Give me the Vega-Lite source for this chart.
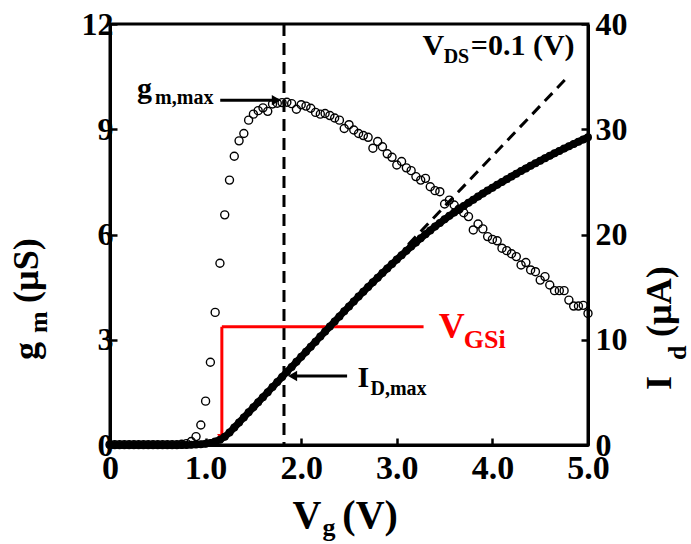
{
  "$schema": "https://vega.github.io/schema/vega-lite/v6.json",
  "width": 478,
  "height": 421,
  "autosize": "none",
  "padding": {"left": 110, "top": 24, "right": 103, "bottom": 99},
  "background": "white",
  "config": {
    "font": "Liberation Serif",
    "view": {"stroke": "black", "strokeWidth": 3},
    "axis": {
      "labelFont": "Liberation Serif", "labelFontWeight": "bold", "labelColor": "black", "labelFontSize": 32,
      "domainColor": "black", "domainWidth": 3, "tickColor": "black", "tickWidth": 2.5, "tickSize": -7,
      "grid": false, "labelFlush": false, "labelOverlap": false, "labelBound": false, "labelPadding": 4
    },
    "text": {"font": "Liberation Serif", "fontWeight": "bold", "align": "left", "baseline": "alphabetic"}
  },
  "datasets": {
    "gm": [
      {"Vg":0.00,"gm":0.01},{"Vg":0.05,"gm":0.01},{"Vg":0.10,"gm":0.01},{"Vg":0.15,"gm":0.01},{"Vg":0.20,"gm":0.01},
      {"Vg":0.25,"gm":0.01},{"Vg":0.30,"gm":0.01},{"Vg":0.35,"gm":0.01},{"Vg":0.40,"gm":0.01},{"Vg":0.45,"gm":0.01},
      {"Vg":0.50,"gm":0.01},{"Vg":0.55,"gm":0.01},{"Vg":0.60,"gm":0.01},{"Vg":0.65,"gm":0.01},{"Vg":0.70,"gm":0.01},
      {"Vg":0.75,"gm":0.02},{"Vg":0.80,"gm":0.04},{"Vg":0.85,"gm":0.10},{"Vg":0.90,"gm":0.24},{"Vg":0.95,"gm":0.57},
      {"Vg":1.00,"gm":1.25},{"Vg":1.05,"gm":2.36},{"Vg":1.10,"gm":3.78},{"Vg":1.15,"gm":5.18},{"Vg":1.20,"gm":6.56},
      {"Vg":1.25,"gm":7.55},{"Vg":1.30,"gm":8.23},{"Vg":1.35,"gm":8.67},{"Vg":1.40,"gm":8.88},{"Vg":1.45,"gm":9.26},
      {"Vg":1.50,"gm":9.43},{"Vg":1.55,"gm":9.53},{"Vg":1.60,"gm":9.61},{"Vg":1.65,"gm":9.51},{"Vg":1.70,"gm":9.72},
      {"Vg":1.75,"gm":9.74},{"Vg":1.80,"gm":9.76},{"Vg":1.85,"gm":9.77},{"Vg":1.90,"gm":9.73},{"Vg":1.95,"gm":9.57},
      {"Vg":2.00,"gm":9.70},{"Vg":2.05,"gm":9.66},{"Vg":2.10,"gm":9.60},{"Vg":2.15,"gm":9.48},{"Vg":2.20,"gm":9.43},
      {"Vg":2.25,"gm":9.45},{"Vg":2.30,"gm":9.39},{"Vg":2.35,"gm":9.32},{"Vg":2.40,"gm":9.26},{"Vg":2.45,"gm":9.02},
      {"Vg":2.50,"gm":9.13},{"Vg":2.55,"gm":8.98},{"Vg":2.60,"gm":8.88},{"Vg":2.65,"gm":8.82},{"Vg":2.70,"gm":8.77},
      {"Vg":2.75,"gm":8.46},{"Vg":2.80,"gm":8.65},{"Vg":2.85,"gm":8.50},{"Vg":2.90,"gm":8.30},{"Vg":2.95,"gm":8.20},
      {"Vg":3.00,"gm":7.98},{"Vg":3.05,"gm":8.08},{"Vg":3.10,"gm":7.90},{"Vg":3.15,"gm":7.82},{"Vg":3.20,"gm":7.65},
      {"Vg":3.25,"gm":7.55},{"Vg":3.30,"gm":7.60},{"Vg":3.35,"gm":7.36},{"Vg":3.40,"gm":7.25},{"Vg":3.45,"gm":7.22},
      {"Vg":3.50,"gm":6.87},{"Vg":3.55,"gm":6.98},{"Vg":3.60,"gm":6.84},{"Vg":3.65,"gm":6.72},{"Vg":3.70,"gm":6.62},
      {"Vg":3.75,"gm":6.51},{"Vg":3.80,"gm":6.13},{"Vg":3.85,"gm":6.30},{"Vg":3.90,"gm":6.16},{"Vg":3.95,"gm":5.94},
      {"Vg":4.00,"gm":5.86},{"Vg":4.05,"gm":5.82},{"Vg":4.10,"gm":5.61},{"Vg":4.15,"gm":5.54},{"Vg":4.20,"gm":5.45},
      {"Vg":4.25,"gm":5.37},{"Vg":4.30,"gm":5.13},{"Vg":4.35,"gm":5.20},{"Vg":4.40,"gm":4.99},{"Vg":4.45,"gm":4.94},
      {"Vg":4.50,"gm":4.70},{"Vg":4.55,"gm":4.80},{"Vg":4.60,"gm":4.56},{"Vg":4.65,"gm":4.40},{"Vg":4.70,"gm":4.40},
      {"Vg":4.75,"gm":4.40},{"Vg":4.80,"gm":4.13},{"Vg":4.85,"gm":3.96},{"Vg":4.90,"gm":3.96},{"Vg":4.95,"gm":3.98},
      {"Vg":5.00,"gm":3.75}
    ],
    "id": [
      {"Vg":0.00,"Id":0},{"Vg":0.05,"Id":0},{"Vg":0.10,"Id":0},{"Vg":0.15,"Id":0},{"Vg":0.20,"Id":0},
      {"Vg":0.25,"Id":0},{"Vg":0.30,"Id":0},{"Vg":0.35,"Id":0},{"Vg":0.40,"Id":0},{"Vg":0.45,"Id":0},
      {"Vg":0.50,"Id":0},{"Vg":0.55,"Id":0},{"Vg":0.60,"Id":0},{"Vg":0.65,"Id":0},{"Vg":0.70,"Id":0},
      {"Vg":0.75,"Id":0},{"Vg":0.80,"Id":0.01},{"Vg":0.85,"Id":0.02},{"Vg":0.90,"Id":0.04},{"Vg":0.95,"Id":0.07},
      {"Vg":1.00,"Id":0.12},{"Vg":1.05,"Id":0.20},{"Vg":1.10,"Id":0.33},{"Vg":1.15,"Id":0.50},{"Vg":1.20,"Id":0.78},
      {"Vg":1.25,"Id":1.18},{"Vg":1.30,"Id":1.66},{"Vg":1.35,"Id":2.14},{"Vg":1.40,"Id":2.62},{"Vg":1.45,"Id":3.10},
      {"Vg":1.50,"Id":3.58},{"Vg":1.55,"Id":4.06},{"Vg":1.60,"Id":4.54},{"Vg":1.65,"Id":5.02},{"Vg":1.70,"Id":5.50},
      {"Vg":1.75,"Id":5.98},{"Vg":1.80,"Id":6.46},{"Vg":1.85,"Id":6.94},{"Vg":1.90,"Id":7.42},{"Vg":1.95,"Id":7.90},
      {"Vg":2.00,"Id":8.38},{"Vg":2.05,"Id":8.86},{"Vg":2.10,"Id":9.34},{"Vg":2.15,"Id":9.82},{"Vg":2.20,"Id":10.30},
      {"Vg":2.25,"Id":10.78},{"Vg":2.30,"Id":11.26},{"Vg":2.35,"Id":11.74},{"Vg":2.40,"Id":12.22},{"Vg":2.45,"Id":12.70},
      {"Vg":2.50,"Id":13.17},{"Vg":2.55,"Id":13.64},{"Vg":2.60,"Id":14.10},{"Vg":2.65,"Id":14.56},{"Vg":2.70,"Id":15.01},
      {"Vg":2.75,"Id":15.46},{"Vg":2.80,"Id":15.90},{"Vg":2.85,"Id":16.34},{"Vg":2.90,"Id":16.77},{"Vg":2.95,"Id":17.20},
      {"Vg":3.00,"Id":17.62},{"Vg":3.05,"Id":18.04},{"Vg":3.10,"Id":18.45},{"Vg":3.15,"Id":18.85},{"Vg":3.20,"Id":19.25},
      {"Vg":3.25,"Id":19.64},{"Vg":3.30,"Id":20.02},{"Vg":3.35,"Id":20.39},{"Vg":3.40,"Id":20.75},{"Vg":3.45,"Id":21.10},
      {"Vg":3.50,"Id":21.44},{"Vg":3.55,"Id":21.77},{"Vg":3.60,"Id":22.09},{"Vg":3.65,"Id":22.40},{"Vg":3.70,"Id":22.71},
      {"Vg":3.75,"Id":23.01},{"Vg":3.80,"Id":23.31},{"Vg":3.85,"Id":23.60},{"Vg":3.90,"Id":23.89},{"Vg":3.95,"Id":24.17},
      {"Vg":4.00,"Id":24.45},{"Vg":4.05,"Id":24.72},{"Vg":4.10,"Id":24.99},{"Vg":4.15,"Id":25.26},{"Vg":4.20,"Id":25.52},
      {"Vg":4.25,"Id":25.78},{"Vg":4.30,"Id":26.03},{"Vg":4.35,"Id":26.28},{"Vg":4.40,"Id":26.53},{"Vg":4.45,"Id":26.77},
      {"Vg":4.50,"Id":27.01},{"Vg":4.55,"Id":27.25},{"Vg":4.60,"Id":27.48},{"Vg":4.65,"Id":27.71},{"Vg":4.70,"Id":27.94},
      {"Vg":4.75,"Id":28.16},{"Vg":4.80,"Id":28.38},{"Vg":4.85,"Id":28.60},{"Vg":4.90,"Id":28.82},{"Vg":4.95,"Id":29.03},
      {"Vg":5.00,"Id":29.24}
    ]
  },
  "layer": [
    {
      "layer": [
        {
          "data": {"name": "gm"},
          "mark": {"type": "point", "shape": "circle", "filled": false, "color": "black", "strokeWidth": 1.4, "size": 64, "opacity": 1},
          "encoding": {
            "x": {"field": "Vg", "type": "quantitative", "scale": {"domain": [0, 5]}, "title": null,
                  "axis": {"values": [0, 1, 2, 3, 4, 5], "labelExpr": "datum.value == 0 ? '0' : format(datum.value, '.1f')", "labelPadding": 13, "labelFontSize": 34}},
            "y": {"field": "gm", "type": "quantitative", "scale": {"domain": [0, 12]}, "title": null,
                  "axis": {"orient": "left", "values": [0, 3, 6, 9, 12], "labelPadding": 4}}
          }
        },
        {
          "data": {"values": [{"Vg": 1.82}]},
          "mark": {"type": "rule", "color": "black", "strokeWidth": 3, "strokeDash": [12, 7]},
          "encoding": {
            "x": {"field": "Vg", "type": "quantitative", "scale": {"domain": [0, 5]}, "title": null}
          }
        },
        {
          "data": {"values": [
            {"Vg": 1.17, "gm": 3.37, "Vg2": 1.17, "gm2": 0.3},
            {"Vg": 1.17, "gm": 3.37, "Vg2": 3.28, "gm2": 3.37}
          ]},
          "mark": {"type": "rule", "color": "#ff0000", "strokeWidth": 3},
          "encoding": {
            "x": {"field": "Vg", "type": "quantitative", "scale": {"domain": [0, 5]}, "title": null},
            "y": {"field": "gm", "type": "quantitative", "scale": {"domain": [0, 12]}, "title": null},
            "x2": {"field": "Vg2"},
            "y2": {"field": "gm2"}
          }
        },
        {
          "data": {"values": [{"Vg": 1.17, "gm": 0.2}]},
          "mark": {"type": "point", "shape": "triangle-down", "filled": true, "color": "#ff0000", "size": 90, "opacity": 1},
          "encoding": {
            "x": {"field": "Vg", "type": "quantitative", "scale": {"domain": [0, 5]}, "title": null},
            "y": {"field": "gm", "type": "quantitative", "scale": {"domain": [0, 12]}, "title": null}
          }
        },
        {
          "data": {"values": [
            {"Vg": 1.153, "gm": 9.83, "Vg2": 1.72, "gm2": 9.83},
            {"Vg": 2.48, "gm": 1.97, "Vg2": 1.93, "gm2": 1.97}
          ]},
          "mark": {"type": "rule", "color": "black", "strokeWidth": 3},
          "encoding": {
            "x": {"field": "Vg", "type": "quantitative", "scale": {"domain": [0, 5]}, "title": null},
            "y": {"field": "gm", "type": "quantitative", "scale": {"domain": [0, 12]}, "title": null},
            "x2": {"field": "Vg2"},
            "y2": {"field": "gm2"}
          }
        },
        {
          "data": {"values": [{"Vg": 1.74, "gm": 9.83}]},
          "mark": {"type": "point", "shape": "triangle-right", "filled": true, "color": "black", "size": 110, "opacity": 1},
          "encoding": {
            "x": {"field": "Vg", "type": "quantitative", "scale": {"domain": [0, 5]}, "title": null},
            "y": {"field": "gm", "type": "quantitative", "scale": {"domain": [0, 12]}, "title": null}
          }
        },
        {
          "data": {"values": [{"Vg": 1.91, "gm": 1.97}]},
          "mark": {"type": "point", "shape": "triangle-left", "filled": true, "color": "black", "size": 110, "opacity": 1},
          "encoding": {
            "x": {"field": "Vg", "type": "quantitative", "scale": {"domain": [0, 5]}, "title": null},
            "y": {"field": "gm", "type": "quantitative", "scale": {"domain": [0, 12]}, "title": null}
          }
        },
        {
          "data": {"values": [
            {"Vg": 0.283, "gm": 9.89, "t": "g"},
            {"Vg": 3.27, "gm": 11.12, "t": "V"},
            {"Vg": 3.774, "gm": 11.12, "t": "=0.1 (V)"},
            {"Vg": 2.59, "gm": 1.653, "t": "I"}
          ]},
          "mark": {"type": "text", "fontSize": 30, "color": "black"},
          "encoding": {
            "x": {"field": "Vg", "type": "quantitative", "scale": {"domain": [0, 5]}, "title": null},
            "y": {"field": "gm", "type": "quantitative", "scale": {"domain": [0, 12]}, "title": null},
            "text": {"field": "t"}
          }
        },
        {
          "data": {"values": [
            {"Vg": 0.472, "gm": 9.72, "t": "m,max"},
            {"Vg": 3.49, "gm": 10.89, "t": "DS"},
            {"Vg": 2.725, "gm": 1.425, "t": "D,max"}
          ]},
          "mark": {"type": "text", "fontSize": 20, "color": "black"},
          "encoding": {
            "x": {"field": "Vg", "type": "quantitative", "scale": {"domain": [0, 5]}, "title": null},
            "y": {"field": "gm", "type": "quantitative", "scale": {"domain": [0, 12]}, "title": null},
            "text": {"field": "t"}
          }
        },
        {
          "data": {"values": [{"Vg": 3.438, "gm": 3.05, "t": "V"}]},
          "mark": {"type": "text", "fontSize": 36, "color": "#ff0000"},
          "encoding": {
            "x": {"field": "Vg", "type": "quantitative", "scale": {"domain": [0, 5]}, "title": null},
            "y": {"field": "gm", "type": "quantitative", "scale": {"domain": [0, 12]}, "title": null},
            "text": {"field": "t"}
          }
        },
        {
          "data": {"values": [{"Vg": 3.70, "gm": 2.765, "t": "GSi"}]},
          "mark": {"type": "text", "fontSize": 26, "color": "#ff0000"},
          "encoding": {
            "x": {"field": "Vg", "type": "quantitative", "scale": {"domain": [0, 5]}, "title": null},
            "y": {"field": "gm", "type": "quantitative", "scale": {"domain": [0, 12]}, "title": null},
            "text": {"field": "t"}
          }
        },
        {
          "data": {"values": [
            {"Vg": 1.908, "gm": -2.37, "t": "V"},
            {"Vg": 2.43, "gm": -2.37, "t": "(V)"}
          ]},
          "mark": {"type": "text", "fontSize": 40, "color": "black"},
          "encoding": {
            "x": {"field": "Vg", "type": "quantitative", "scale": {"domain": [0, 5]}, "title": null},
            "y": {"field": "gm", "type": "quantitative", "scale": {"domain": [0, 12]}, "title": null},
            "text": {"field": "t"}
          }
        },
        {
          "data": {"values": [{"Vg": 2.222, "gm": -2.59, "t": "g"}]},
          "mark": {"type": "text", "fontSize": 26, "color": "black"},
          "encoding": {
            "x": {"field": "Vg", "type": "quantitative", "scale": {"domain": [0, 5]}, "title": null},
            "y": {"field": "gm", "type": "quantitative", "scale": {"domain": [0, 12]}, "title": null},
            "text": {"field": "t"}
          }
        },
        {
          "data": {"values": [
            {"Vg": -0.755, "gm": 2.42, "t": "g"},
            {"Vg": -0.755, "gm": 4.05, "t": "(µS)"},
            {"Vg": 5.87, "gm": 1.568, "t": "I"},
            {"Vg": 5.87, "gm": 3.08, "t": "(µA)"}
          ]},
          "mark": {"type": "text", "fontSize": 36, "color": "black", "angle": 270},
          "encoding": {
            "x": {"field": "Vg", "type": "quantitative", "scale": {"domain": [0, 5]}, "title": null},
            "y": {"field": "gm", "type": "quantitative", "scale": {"domain": [0, 12]}, "title": null},
            "text": {"field": "t"}
          }
        },
        {
          "data": {"values": [
            {"Vg": -0.66, "gm": 3.19, "t": "m"},
            {"Vg": 6.02, "gm": 2.42, "t": "d"}
          ]},
          "mark": {"type": "text", "fontSize": 26, "color": "black", "angle": 270},
          "encoding": {
            "x": {"field": "Vg", "type": "quantitative", "scale": {"domain": [0, 5]}, "title": null},
            "y": {"field": "gm", "type": "quantitative", "scale": {"domain": [0, 12]}, "title": null},
            "text": {"field": "t"}
          }
        }
      ]
    },
    {
      "layer": [
        {
          "data": {"name": "id"},
          "mark": {"type": "line", "color": "black", "strokeWidth": 7},
          "encoding": {
            "x": {"field": "Vg", "type": "quantitative", "scale": {"domain": [0, 5]}, "title": null},
            "y": {"field": "Id", "type": "quantitative", "scale": {"domain": [0, 40]}, "title": null,
                  "axis": {"orient": "right", "values": [0, 10, 20, 30, 40], "labelPadding": 14}}
          }
        },
        {
          "data": {"name": "id"},
          "mark": {"type": "point", "shape": "circle", "filled": true, "color": "black", "size": 64, "opacity": 1},
          "encoding": {
            "x": {"field": "Vg", "type": "quantitative", "scale": {"domain": [0, 5]}, "title": null},
            "y": {"field": "Id", "type": "quantitative", "scale": {"domain": [0, 40]}, "title": null}
          }
        },
        {
          "data": {"values": [{"Vg": 3.12, "Id": 19.05, "Vg2": 4.77, "Id2": 34.8}]},
          "mark": {"type": "rule", "color": "black", "strokeWidth": 3, "strokeDash": [11, 7]},
          "encoding": {
            "x": {"field": "Vg", "type": "quantitative", "scale": {"domain": [0, 5]}, "title": null},
            "y": {"field": "Id", "type": "quantitative", "scale": {"domain": [0, 40]}, "title": null},
            "x2": {"field": "Vg2"},
            "y2": {"field": "Id2"}
          }
        }
      ]
    }
  ],
  "resolve": {"scale": {"y": "independent"}}
}
